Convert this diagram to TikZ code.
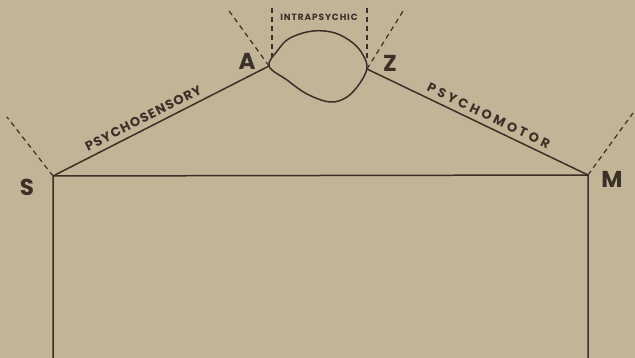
\documentclass[tikz,border=0pt]{standalone}
\usepackage{fontspec}
\setmainfont{Poppins}
\definecolor{paper}{HTML}{C1B497}
\definecolor{ink}{HTML}{3A3027}
\begin{document}
\begin{tikzpicture}[x=1pt,y=-1pt,
  ln/.style={draw=ink,line width=1.5pt},
  dsh/.style={draw=ink,line width=1.2pt,dash pattern=on 5pt off 4pt},
  big/.style={text=ink,font=\fontsize{23}{23}\selectfont\bfseries,inner sep=0pt},
  lbl/.style={text=ink,font=\fontsize{13}{13}\selectfont\bfseries,inner sep=0pt}]
\fill[paper] (0,0) rectangle (635,358);
\useasboundingbox (0,0) rectangle (635,358);
\coordinate (S) at (53,176);
\coordinate (M) at (588,175);
\coordinate (A) at (269,66);
\coordinate (Z) at (367,69);
\coordinate (Sb) at (53,358);
\coordinate (Mb) at (588,358);
\coordinate (Sd) at (7,117);
\coordinate (Md) at (633,113);
\coordinate (Ad) at (227,8);
\coordinate (Zd) at (405,8);
\coordinate (L1) at (272,8);
\coordinate (L2) at (272,58);
\coordinate (R1) at (367,8);
\coordinate (R2) at (367,60);
% main frame
\draw[ln] (Sb) -- (S) -- (M) -- (Mb);
\draw[ln] (S) -- node[lbl,sloped,above=5pt,pos=0.44]{\addfontfeatures{LetterSpace=9}PSYCHOSENSORY} (A);
\draw[ln] (Z) -- node[lbl,sloped,above=5pt,pos=0.53]{\addfontfeatures{LetterSpace=24}PSYCHOMOTOR} (M);
% dashed lines
\draw[dsh] (S) -- (Sd);
\draw[dsh] (M) -- (Md);
\draw[dsh] (A) -- (Ad);
\draw[dsh] (Z) -- (Zd);
\draw[dsh] (L1) -- (L2);
\draw[dsh] (R1) -- (R2);
% blob
\draw[ln] plot[smooth cycle,tension=0.6] coordinates {(269,66) (278,50) (290,38) (313,31) (335,33) (353,43) (363,55) (367,68) (360,83) (347,97) (330,102) (307,94) (287,80)};
% labels
\node[big] (la) at (247,61) {A};
\node[big] (lz) at (390,63) {Z};
\node[big] (ls) at (27,187) {S};
\node[big] (lm) at (612,179) {M};
\node[text=ink,font=\fontsize{9}{9}\selectfont\bfseries\addfontfeatures{LetterSpace=10},inner sep=0pt] (li) at (319,17) {INTRAPSYCHIC};
\end{tikzpicture}
\end{document}
